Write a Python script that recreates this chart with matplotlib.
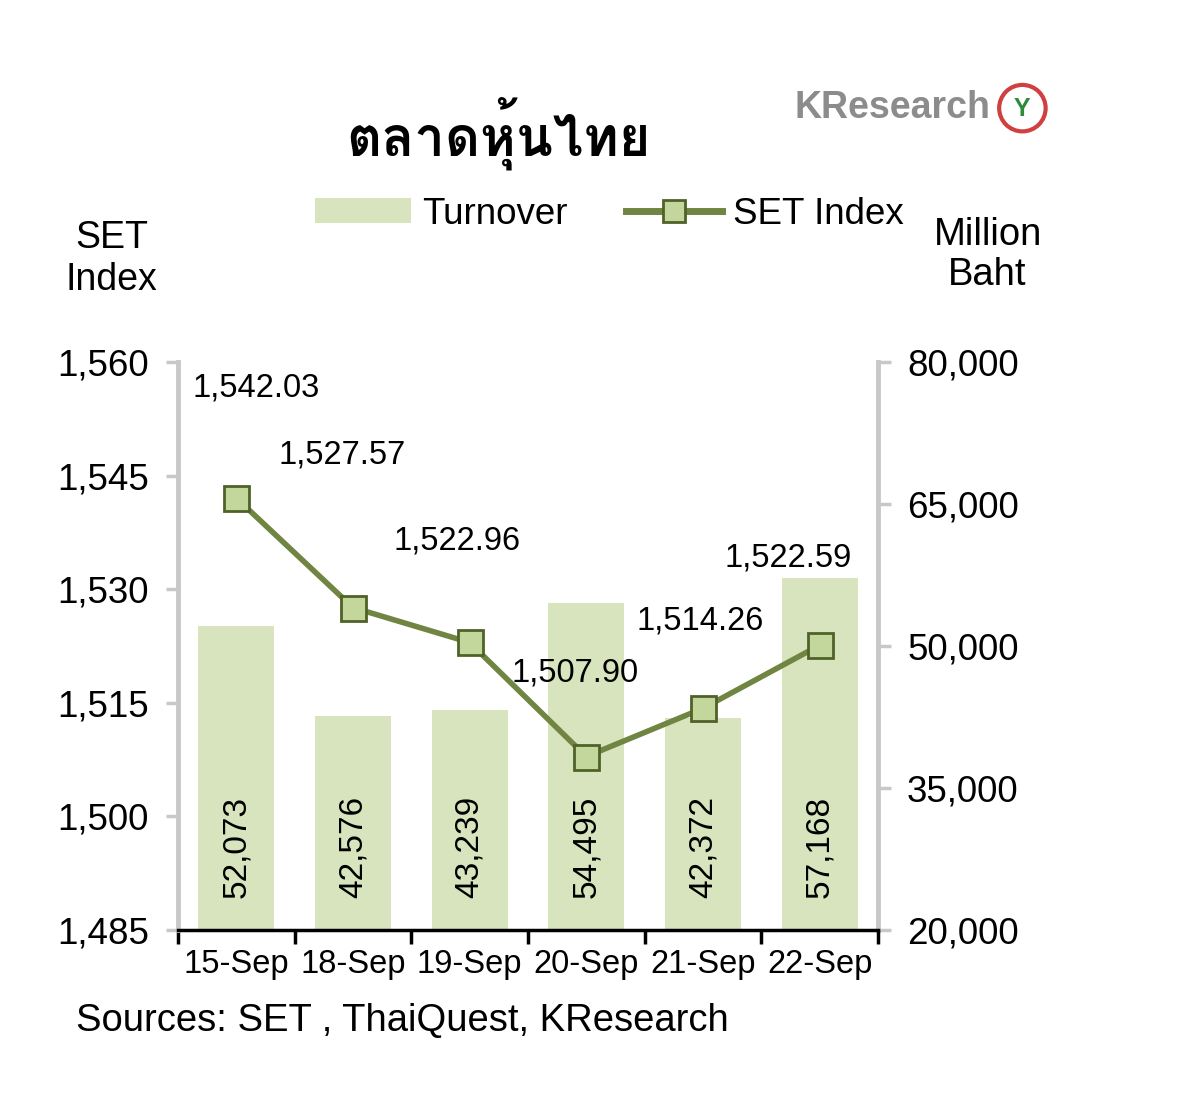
import matplotlib
matplotlib.use("Agg")
import matplotlib.pyplot as plt
from matplotlib import font_manager
from matplotlib.patches import Patch, Circle
from matplotlib.lines import Line2D
from matplotlib.ticker import FuncFormatter, FixedLocator

# ---- data ----
dates = ["15-Sep", "18-Sep", "19-Sep", "20-Sep", "21-Sep", "22-Sep"]
set_index = [1542.03, 1527.57, 1522.96, 1507.90, 1514.26, 1522.59]
turnover = [52073, 42576, 43239, 54495, 42372, 57168]
set_ticks = [1485, 1500, 1515, 1530, 1545, 1560]
turnover_ticks = [20000, 35000, 50000, 65000, 80000]
title_text = "ตลาดหุ้นไทย"
source_text = "Sources: SET , ThaiQuest, KResearch"

# ---- fonts ----
names = {f.name for f in font_manager.fontManager.ttflist}
thai_font = None
try:
    from fontTools.ttLib import TTFont
    for f in font_manager.fontManager.ttflist:
        try:
            tt = TTFont(f.fname, fontNumber=0, lazy=True)
            cmap = tt.getBestCmap()
            if cmap and 0x0E15 in cmap and 0x0E2B in cmap:
                thai_font = f.name
                break
        except Exception:
            pass
except Exception:
    pass
base = "Liberation Sans" if "Liberation Sans" in names else "DejaVu Sans"
plt.rcParams["font.family"] = [base, "DejaVu Sans"]

fig = plt.figure(figsize=(12, 11.12), dpi=100)
ax = fig.add_axes([0.1483, 0.1637, 0.5833, 0.5108])
ax2 = ax.twinx()
ax.set_zorder(2)
ax2.set_zorder(1)
ax.patch.set_visible(False)

x = list(range(len(dates)))
bar_color = "#d7e4bd"
line_color = "#6f8541"

ax2.bar(x, turnover, width=0.65, color=bar_color, zorder=1)
ax2.set_ylim(turnover_ticks[0], turnover_ticks[-1])
ax2.yaxis.set_major_locator(FixedLocator(turnover_ticks))
ax2.yaxis.set_major_formatter(FuncFormatter(lambda v, p: f"{v:,.0f}"))

for xi, v in zip(x, turnover):
    ax2.annotate(f"{v:,}", xy=(xi, turnover_ticks[0]), xytext=(0, 60),
                 textcoords="offset points", rotation=90, ha="center", va="center",
                 fontsize=24, color="black")

ax.plot(x, set_index, color=line_color, lw=4, marker="s", markersize=18,
        markerfacecolor="#c3d69b", markeredgecolor="#4f6228", markeredgewidth=2,
        zorder=3)
ax.set_ylim(set_ticks[0], set_ticks[-1])
ax.set_xlim(-0.5, len(dates) - 0.5)
ax.yaxis.set_major_locator(FixedLocator(set_ticks))
ax.yaxis.set_major_formatter(FuncFormatter(lambda v, p: f"{v:,.0f}"))

label_offsets = [(14, 79), (-8, 110), (-9, 73), (-8, 60), (-2, 63), (-23, 63)]
for xi, v, off in zip(x, set_index, label_offsets):
    ax.annotate(f"{v:,.2f}", xy=(xi, v), xytext=off, textcoords="offset points",
                ha="center", va="center", fontsize=23.5, color="black")

# spines & ticks
for a in (ax, ax2):
    a.spines["top"].set_visible(False)
ax.spines["right"].set_visible(False)
ax2.spines["left"].set_visible(False)
ax.spines["left"].set_color("#c8c8c8")
ax.spines["left"].set_linewidth(3.5)
ax2.spines["right"].set_color("#c8c8c8")
ax2.spines["right"].set_linewidth(3.5)
ax.spines["bottom"].set_color("black")
ax.spines["bottom"].set_linewidth(2.5)
ax2.spines["bottom"].set_visible(False)

ax.tick_params(axis="y", which="major", length=9, width=2.5, color="#c8c8c8",
               labelsize=26.5, pad=12, direction="out")
ax2.tick_params(axis="y", which="major", length=9, width=2.5, color="#c8c8c8",
                labelsize=26.5, pad=12, direction="out")

ax.set_xticks(x)
ax.set_xticklabels(dates)
ax.tick_params(axis="x", which="major", length=0, labelsize=23.5, pad=14)
ax.set_xticks([i - 0.5 for i in range(len(dates) + 1)], minor=True)
ax.tick_params(axis="x", which="minor", length=10, width=2.5, color="black",
               direction="out")

# titles / axis labels
title_family = [thai_font, "DejaVu Sans"] if thai_font else ["DejaVu Sans"]
fig.text(0.415, 0.880, title_text, fontsize=39, fontweight="bold",
         ha="center", va="center", family=title_family)
fig.text(0.093, 0.767, "SET\nIndex", fontsize=27, ha="center", va="center",
         linespacing=1.2)
fig.text(0.823, 0.771, "Million\nBaht", fontsize=27.5, ha="center", va="center",
         linespacing=1.15)
fig.text(0.063, 0.082, source_text, fontsize=27.5, ha="left", va="center")

# KResearch logo
fig.text(0.662, 0.903, "KResearch", fontsize=27, fontweight="bold",
         color="#8c8c8c", ha="left", va="center")
logo_ax = fig.add_axes([0.830, 0.879, 0.044, 0.0475])
logo_ax.set_xlim(-1, 1)
logo_ax.set_ylim(-1, 1)
logo_ax.set_aspect("equal")
logo_ax.axis("off")
logo_ax.add_patch(Circle((0, 0), 0.88, facecolor="white", edgecolor="#d04040", lw=3))
logo_ax.text(0, -0.05, "Y", fontsize=18, fontweight="bold", color="#2e8b3a",
             ha="center", va="center")

# legend
handles = [Patch(facecolor=bar_color, edgecolor="none", label="Turnover"),
           Line2D([0], [0], color=line_color, lw=5, marker="s", markersize=16,
                  markerfacecolor="#c3d69b", markeredgecolor="#4f6228",
                  markeredgewidth=2, label="SET Index")]
fig.legend(handles=handles, loc="center", bbox_to_anchor=(0.508, 0.8075),
           ncol=2, frameon=False, fontsize=26.5, handlelength=2.6,
           handleheight=0.65, columnspacing=1.6, handletextpad=0.3)

fig.savefig("out.png", dpi=100, facecolor="white")
